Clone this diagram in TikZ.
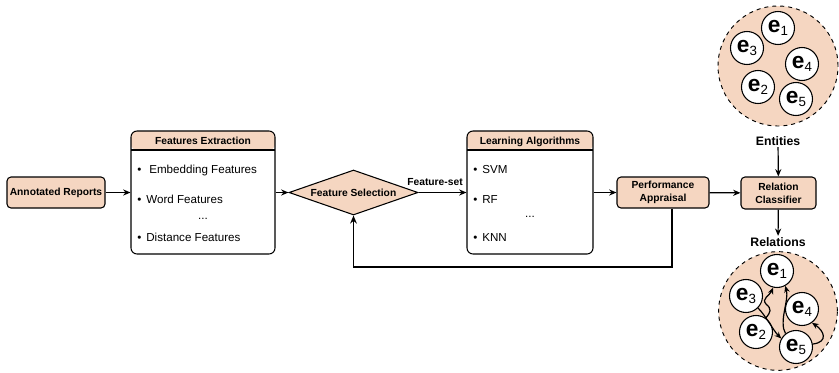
\documentclass[tikz,border=0pt]{standalone}
\usepackage{fontspec}
\setsansfont{Liberation Sans}
\usetikzlibrary{shapes.geometric, arrows.meta}
\definecolor{peach}{RGB}{245,214,193}

% entity label: bold "e" with a lowered index
\newcommand\entlab[1]{\textbf{e}\raisebox{-2.8pt}{\fontsize{10pt}{10pt}\selectfont #1}}

\tikzset{
  arr/.style={-{Stealth[length=5.5pt,width=4.6pt]}, line width=0.9pt},
  fbline/.style={-{Stealth[length=6pt,width=5pt]}, line width=1.2pt},
  curvy/.style={-{Stealth[length=5pt,width=4.2pt]}, line width=0.9pt},
  bold/.style={font=\sffamily\bfseries\fontsize{7.7pt}{9.6pt}\selectfont},
  pbox/.style={draw, line width=0.8pt, fill=peach, rounded corners=3pt,
    bold, align=center, inner sep=0pt},
  listbox/.style={draw, line width=0.8pt, rounded corners=4.5pt, inner sep=0pt,
    minimum width=#1, minimum height=92.25pt,
    path picture={
      \fill[peach] (path picture bounding box.north west) rectangle
        ([yshift=-14.25pt]path picture bounding box.north east);
      \draw[line width=0.8pt] ([yshift=-14.25pt]path picture bounding box.north west) --
        ([yshift=-14.25pt]path picture bounding box.north east);}},
  hdr/.style={bold, anchor=base, inner sep=0pt},
  item/.style={anchor=base west, inner sep=0pt,
    font=\sffamily\fontsize{8.7pt}{10pt}\selectfont},
  dots/.style={anchor=base, inner sep=0pt,
    font=\sffamily\fontsize{8.7pt}{10pt}\selectfont},
  group/.style={circle, draw, dashed, line width=0.7pt, fill=peach, inner sep=0pt},
  ent/.style={circle, draw, line width=0.8pt, fill=white, inner sep=0pt,
    minimum size=24.75pt, font=\sffamily\fontsize{17pt}{18pt}\selectfont},
  caption/.style={font=\sffamily\bfseries\fontsize{9.2pt}{11pt}\selectfont, inner sep=1pt}
}

\begin{document}
\begin{tikzpicture}[x=0.75pt, y=-0.75pt]
\useasboundingbox (0,0) rectangle (839,372);

% pipeline
\node[pbox, minimum width=73.5pt, minimum height=23.25pt] (ar) at (56,192.5) {Annotated Reports};

\node[listbox=108pt] (fe) at (203,192.5) {};
\node[hdr] (fe-t) at (203,144) {Features Extraction};
\node[item] (fe-1) at (137,173) {\textbullet\hspace{6pt}Embedding Features};
\node[item] (fe-2) at (137,203) {\textbullet\hspace{3.75pt}Word Features};
\node[dots] (fe-d) at (203,219) {...};
\node[item] (fe-3) at (137,241) {\textbullet\hspace{3.75pt}Distance Features};

\node[diamond, draw, line width=0.8pt, fill=peach, inner sep=0pt,
  minimum width=96.75pt, minimum height=33.75pt,
  label={[bold]center:Feature Selection}] (fs) at (353.5,192.5) {};

\node[listbox=94.5pt] (la) at (530,192.5) {};
\node[hdr] (la-t) at (530,144) {Learning Algorithms};
\node[item] (la-1) at (473,173) {\textbullet\hspace{3.75pt}SVM};
\node[item] (la-2) at (473,203) {\textbullet\hspace{3.75pt}RF};
\node[dots] (la-d) at (530,217) {...};
\node[item] (la-3) at (473,241) {\textbullet\hspace{3.75pt}KNN};

\node[pbox, minimum width=69pt, minimum height=23.25pt] (pa) at (663,192.5) {Performance\\Appraisal};
\node[pbox, minimum width=56.25pt, minimum height=24pt] (rc) at (778.5,193) {Relation\\Classifier};

\draw[arr] (ar) -- (fe);
\draw[arr] (fe) -- (fs);
\draw[arr] (fs) -- (la);
\node[bold, inner sep=0pt] (fset) at (435,182) {Feature-set};
\draw[arr] (la) -- (pa);
\draw[arr] (pa) -- (rc);

% feedback from the appraisal back to the selection step
\coordinate (fbturn) at (353.5,267);
\draw[fbline] ([xshift=6.75pt]pa.south) |- (fbturn) -- (fs.south);

% entity groups
\node[group, minimum size=90pt] (topc) at (778,66) {};
\node[ent] (a1) at (778,28) {\entlab{1}};
\node[ent] (a3) at (747,48) {\entlab{3}};
\node[ent] (a4) at (802,64) {\entlab{4}};
\node[ent] (a2) at (758,87) {\entlab{2}};
\node[ent] (a5) at (796,99) {\entlab{5}};

\node[caption] (entl) at (778,141) {Entities};
\node[caption] (rell) at (778,242) {Relations};
\draw[arr] (entl) -- (rc);
\draw[arr] (rc) -- (rell);

\node[group, minimum size=89pt] (botc) at (778,311) {};
\node[ent] (b1) at (777,271) {\entlab{1}};
\node[ent] (b3) at (746,296) {\entlab{3}};
\node[ent] (b4) at (802,309) {\entlab{4}};
\node[ent] (b2) at (756,332) {\entlab{2}};
\node[ent] (b5) at (796,347) {\entlab{5}};

% relations between entities
\coordinate (wig) at (766,304);
\draw[curvy] (b2.55) .. controls +(5,-6) and +(6,5) .. (wig)
  .. controls +(-5,-5) and +(-3,7) .. (b1.257);
\draw[curvy] (b5.128) .. controls +(-7,-12) and +(4,14) .. (b1.299);
\draw[curvy] (b3.315) .. controls +(8,8) and +(-8,-8) .. (b5.150);
\draw[curvy] (b5.10) .. controls +(16,-2) and +(12,8) .. (b4.306);
\end{tikzpicture}
\end{document}
